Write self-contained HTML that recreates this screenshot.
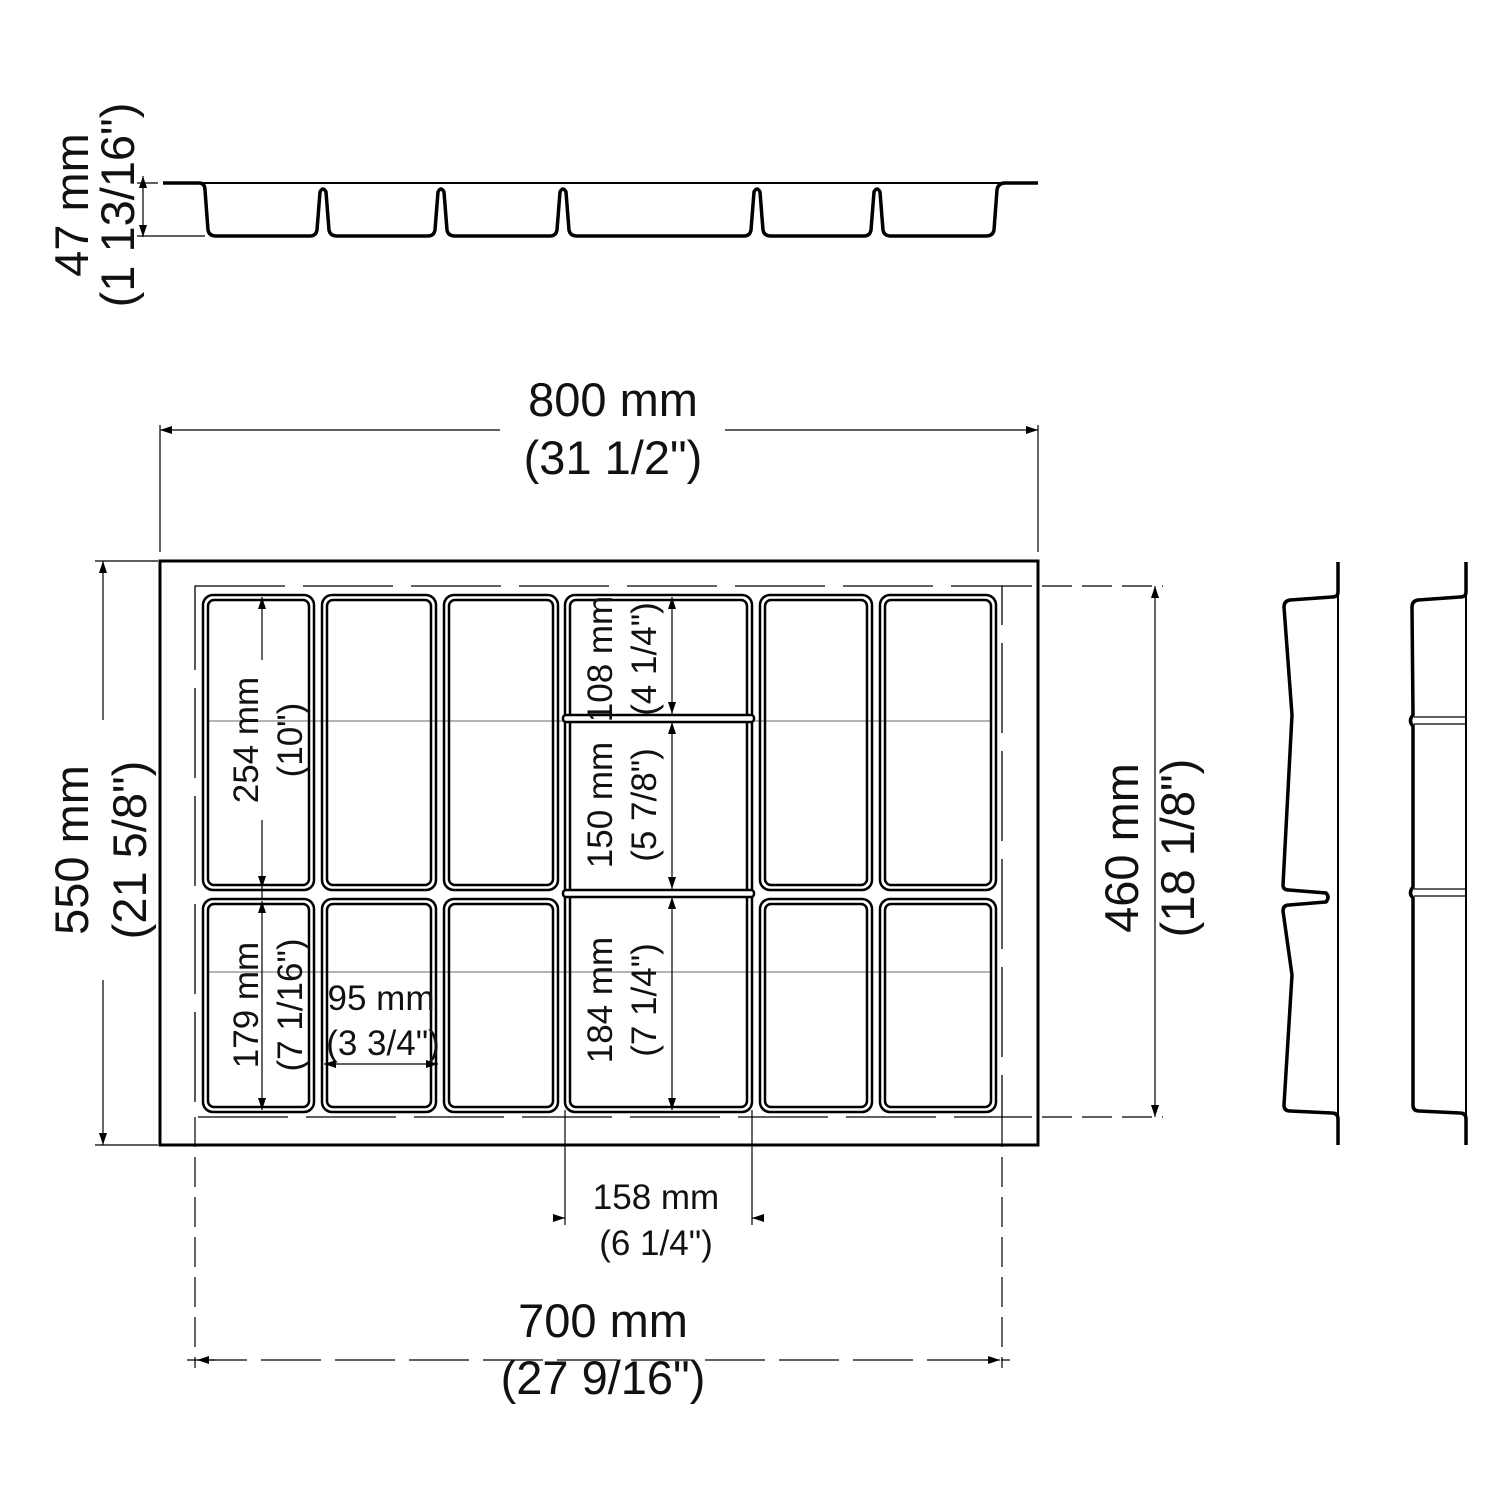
<!DOCTYPE html>
<html><head><meta charset="utf-8"><style>
html,body{margin:0;padding:0;background:#fff}
svg{display:block}
text{font-family:"Liberation Sans",sans-serif;fill:#111}
</style></head><body>
<svg width="1500" height="1500" viewBox="0 0 1500 1500" xmlns="http://www.w3.org/2000/svg">
<defs>
<marker id="a" viewBox="0 0 12 8" refX="12" refY="4" markerWidth="12" markerHeight="8" orient="auto-start-reverse" markerUnits="userSpaceOnUse"><path d="M0,0 L12,4 L0,8z" fill="#000"/></marker>
</defs>
<g fill="none" stroke="#000">
<line x1="163" y1="183" x2="1038" y2="183" stroke-width="2"/>
<path stroke-width="3.5" d="M163,183 L199,183 Q205,183 205,190 L208,230 Q209,236 216,236 L310,236 Q316,236 317,230 L320,192 Q323,186 326,192 L329,230 Q330,236 337,236 L428,236 Q434,236 435,230 L438,192 Q441,186 444,192 L447,230 Q448,236 455,236 L550,236 Q556,236 557,230 L560,192 Q563,186 566,192 L569,230 Q570,236 577,236 L744,236 Q750,236 751,230 L754,192 Q757,186 760,192 L763,230 Q764,236 771,236 L864,236 Q870,236 871,230 L874,192 Q877,186 880,192 L883,230 Q884,236 891,236 L986,236 Q993,236 994,230 L997,190 Q998,183 1005,183 L1038,183"/>
<line x1="143" y1="176" x2="143" y2="237" stroke-width="1.2" marker-start="url(#a)" marker-end="url(#a)"/>
<line x1="137" y1="183" x2="158" y2="183" stroke-width="1.2"/>
<line x1="137" y1="236" x2="205" y2="236" stroke-width="1.2"/>

<line x1="160" y1="425" x2="160" y2="552" stroke-width="1.2"/>
<line x1="1038" y1="425" x2="1038" y2="552" stroke-width="1.2"/>
<line x1="160" y1="430" x2="500" y2="430" stroke-width="1.2" marker-start="url(#a)"/>
<line x1="725" y1="430" x2="1038" y2="430" stroke-width="1.2" marker-end="url(#a)"/>

<rect x="160" y="561" width="878" height="584" stroke-width="3"/>
<rect x="195" y="586" width="807" height="531" stroke-width="1.3" stroke-dasharray="90,18"/>

<line x1="95" y1="561" x2="158" y2="561" stroke-width="1.2"/>
<line x1="95" y1="1145" x2="158" y2="1145" stroke-width="1.2"/>
<line x1="103" y1="561" x2="103" y2="720" stroke-width="1.2" marker-start="url(#a)"/>
<line x1="103" y1="980" x2="103" y2="1145" stroke-width="1.2" marker-end="url(#a)"/>

<line x1="1002" y1="586" x2="1163" y2="586" stroke-width="1.2" stroke-dasharray="30,10"/>
<line x1="1002" y1="1117" x2="1163" y2="1117" stroke-width="1.2" stroke-dasharray="30,10"/>
<line x1="1155" y1="586" x2="1155" y2="1117" stroke-width="1.2" marker-start="url(#a)" marker-end="url(#a)"/>

<line x1="195" y1="1117" x2="195" y2="1368" stroke-width="1.2" stroke-dasharray="30,10"/>
<line x1="1002" y1="1117" x2="1002" y2="1368" stroke-width="1.2" stroke-dasharray="30,10"/>
<line x1="187" y1="1360" x2="1010" y2="1360" stroke-width="1.2" stroke-dasharray="60,14"/>
<line x1="197" y1="1360" x2="215" y2="1360" stroke-width="1.2" marker-start="url(#a)"/>
<line x1="985" y1="1360" x2="1000" y2="1360" stroke-width="1.2" marker-end="url(#a)"/>

<line x1="565" y1="1110" x2="565" y2="1225" stroke-width="1.2"/>
<line x1="752" y1="1110" x2="752" y2="1225" stroke-width="1.2"/>
<line x1="553" y1="1218" x2="565" y2="1218" stroke-width="1.2" marker-end="url(#a)"/>
<line x1="764" y1="1218" x2="752" y2="1218" stroke-width="1.2" marker-end="url(#a)"/>

<g stroke="#888" stroke-width="1.2">
<line x1="208" y1="721" x2="991" y2="721"/>
<line x1="208" y1="972" x2="991" y2="972"/>
</g>

<g stroke-width="2.5">
<rect x="203" y="595" width="111" height="295" rx="10"/><rect x="208" y="600" width="101" height="285" rx="6"/>
<rect x="322" y="595" width="114" height="295" rx="10"/><rect x="327" y="600" width="104" height="285" rx="6"/>
<rect x="444" y="595" width="114" height="295" rx="10"/><rect x="449" y="600" width="104" height="285" rx="6"/>
<rect x="760" y="595" width="112" height="295" rx="10"/><rect x="765" y="600" width="102" height="285" rx="6"/>
<rect x="880" y="595" width="116" height="295" rx="10"/><rect x="885" y="600" width="106" height="285" rx="6"/>
<rect x="203" y="899" width="111" height="213" rx="10"/><rect x="208" y="904" width="101" height="203" rx="6"/>
<rect x="322" y="899" width="114" height="213" rx="10"/><rect x="327" y="904" width="104" height="203" rx="6"/>
<rect x="444" y="899" width="114" height="213" rx="10"/><rect x="449" y="904" width="104" height="203" rx="6"/>
<rect x="760" y="899" width="112" height="213" rx="10"/><rect x="765" y="904" width="102" height="203" rx="6"/>
<rect x="880" y="899" width="116" height="213" rx="10"/><rect x="885" y="904" width="106" height="203" rx="6"/>
<rect x="565" y="595" width="187" height="517" rx="10"/><rect x="570" y="600" width="177" height="507" rx="6"/>
</g>
<g stroke-width="2.5" fill="#fff">
<rect x="563" y="715" width="191" height="7" rx="3"/>
<rect x="563" y="890" width="191" height="7" rx="3"/>
</g>

<g stroke-width="1.2">
<line x1="262" y1="597" x2="262" y2="660" marker-start="url(#a)"/>
<line x1="262" y1="820" x2="262" y2="888" marker-end="url(#a)"/>
<line x1="262" y1="888" x2="262" y2="900"/>
<line x1="262" y1="901" x2="262" y2="1110" marker-start="url(#a)" marker-end="url(#a)"/>
<line x1="672" y1="597" x2="672" y2="714" marker-start="url(#a)" marker-end="url(#a)"/>
<line x1="672" y1="722" x2="672" y2="889" marker-start="url(#a)" marker-end="url(#a)"/>
<line x1="672" y1="897" x2="672" y2="1110" marker-start="url(#a)" marker-end="url(#a)"/>
<line x1="324" y1="1064" x2="438" y2="1064" marker-start="url(#a)" marker-end="url(#a)"/>
</g>

<line x1="1338" y1="562" x2="1338" y2="1145" stroke-width="2"/>
<path stroke-width="3.5" d="M1338,562 L1338,592 Q1338,597 1332,597 L1290,600 Q1284,601 1284,607 L1292,715 L1283,885 Q1283,890 1289,890 L1326,893 Q1330,897 1326,902 L1289,905 Q1283,905 1283,911 L1292,975 L1284,1105 Q1284,1111 1290,1111 L1332,1113 Q1338,1113 1338,1119 L1338,1145"/>
<line x1="1466" y1="562" x2="1466" y2="1145" stroke-width="2"/>
<path stroke-width="3.5" d="M1466,562 L1466,592 Q1466,597 1460,597 L1418,600 Q1412,601 1412,607 L1413,715 Q1408,721 1413,726 L1413,887 Q1408,893 1413,898 L1413,1105 Q1413,1111 1419,1111 L1460,1113 Q1466,1113 1466,1119 L1466,1145"/>
<g stroke-width="1.3">
<line x1="1414" y1="717" x2="1466" y2="717"/><line x1="1414" y1="724" x2="1466" y2="724"/>
<line x1="1414" y1="889" x2="1466" y2="889"/><line x1="1414" y1="896" x2="1466" y2="896"/>
</g>
</g>

<g font-size="47" text-anchor="middle">
<text x="613" y="416">800 mm</text>
<text x="613" y="474">(31 1/2")</text>
<text x="603" y="1337">700 mm</text>
<text x="603" y="1394">(27 9/16")</text>
<text transform="translate(88,205) rotate(-90)">47 mm</text>
<text transform="translate(134,205) rotate(-90)">(1 13/16")</text>
<text transform="translate(88,850) rotate(-90)">550 mm</text>
<text transform="translate(146,850) rotate(-90)">(21 5/8")</text>
<text transform="translate(1138,848) rotate(-90)">460 mm</text>
<text transform="translate(1194,848) rotate(-90)">(18 1/8")</text>
</g>
<g font-size="35" text-anchor="middle">
<text x="656" y="1209">158 mm</text>
<text x="656" y="1255">(6 1/4")</text>
<text x="381" y="1010">95 mm</text>
<text x="383" y="1055">(3 3/4")</text>
<text transform="translate(258,740) rotate(-90)">254 mm</text>
<text transform="translate(302,740) rotate(-90)">(10")</text>
<text transform="translate(258,1005) rotate(-90)">179 mm</text>
<text transform="translate(302,1005) rotate(-90)">(7 1/16")</text>
<text transform="translate(612,659) rotate(-90)">108 mm</text>
<text transform="translate(656,659) rotate(-90)">(4 1/4")</text>
<text transform="translate(612,805) rotate(-90)">150 mm</text>
<text transform="translate(656,805) rotate(-90)">(5 7/8")</text>
<text transform="translate(612,1000) rotate(-90)">184 mm</text>
<text transform="translate(656,1000) rotate(-90)">(7 1/4")</text>
</g>
</svg>
</body></html>
